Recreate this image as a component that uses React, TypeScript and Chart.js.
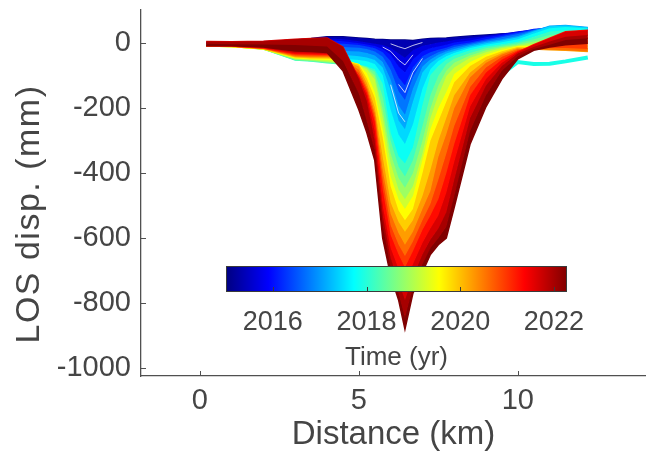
import React, { useEffect, useRef } from 'react';
import { Chart, registerables } from 'chart.js';

Chart.register(...registerables);

// ---------- data ----------
const DIST_KM = [0.2, 1.0, 2.0, 3.0, 3.5, 4.0, 4.5, 5.0, 5.25, 5.5, 5.75, 6.0, 6.25, 6.45, 6.7, 7.0, 7.25, 7.5, 7.75, 8.0, 8.5, 9.0, 9.5, 10.0, 10.5, 11.0, 11.5, 12.2];

const EPOCHS = [2015.0, 2015.35, 2015.7, 2016.05, 2016.4, 2016.75, 2017.1, 2017.45, 2017.8, 2018.15, 2018.5, 2018.85, 2019.2, 2019.55, 2019.9, 2020.25, 2020.6, 2020.95, 2021.3, 2021.65, 2022.0, 2022.28];

const LOS_2015_00 = [2, 3, 4, 10, 14, 20, 20, 16, 14, 12, 11, 10, 10, 10, 8, 12, 14, 15, 16, 18, 22, 25, 28, 30, 32, 30, 28, 25];
const LOS_2015_35 = [1, 2, 2, 6, 10, 14, 12, 6, 2, -2, -6, -14, -32, -45, -22, -8, -3, 2, 5, 10, 16, 22, 28, 32, 36, 36, 34, 30];
const LOS_2015_70 = [0, 1, 0, 2, 5, 8, 6, 0, -4, -9, -18, -36, -72, -90, -50, -25, -16, -10, -5, 2, 8, 18, 26, 34, 40, 42, 40, 35];
const LOS_2016_05 = [-1, 0, -3, -5, -3, 0, -2, -6, -10, -16, -28, -56, -106, -130, -75, -40, -28, -20, -14, -6, 2, 12, 22, 32, 42, 46, 44, 40];
const LOS_2016_40 = [-2, -1, -6, -12, -12, -10, -12, -14, -18, -26, -42, -82, -148, -175, -105, -55, -40, -28, -20, -12, -2, 8, 18, 28, 40, 48, 48, 44];
const LOS_2016_75 = [-3, -2, -9, -20, -22, -22, -24, -26, -30, -38, -58, -112, -192, -220, -140, -72, -50, -36, -26, -18, -6, 4, 12, 22, 38, 50, 52, 47];
const LOS_2017_10 = [-4, -3, -11, -30, -32, -34, -36, -40, -44, -52, -75, -145, -238, -265, -180, -90, -62, -45, -32, -24, -10, 0, 8, 18, 36, 52, 54, 48];
const LOS_2017_45 = [-5, -5, -13, -40, -42, -45, -48, -52, -56, -64, -98, -205, -282, -310, -250, -140, -80, -55, -40, -30, -15, -5, 3, 12, 30, 46, 50, 46];
const LOS_2017_80 = [-6, -7, -15, -50, -53, -58, -62, -66, -72, -80, -125, -275, -348, -370, -320, -190, -98, -70, -50, -38, -22, -10, -3, 4, 20, 36, 40, 38];
const LOS_2018_15 = [-7, -8, -17, -52, -55, -60, -64, -68, -74, -88, -165, -300, -380, -410, -360, -255, -160, -100, -65, -48, -30, -16, -8, 0, 12, 25, 30, 28];
const LOS_2018_50 = [-8, -9, -18, -50, -53, -58, -62, -68, -76, -100, -205, -340, -415, -445, -400, -300, -200, -130, -85, -60, -38, -22, -12, -5, 5, 15, 20, 18];
const LOS_2018_85 = [-9, -10, -18, -48, -51, -56, -60, -68, -80, -112, -230, -370, -450, -480, -440, -340, -230, -160, -102, -75, -45, -28, -15, -8, -2, 5, 8, 5];
const LOS_2019_20 = [-9, -10, -18, -46, -49, -52, -56, -66, -92, -150, -265, -410, -480, -510, -470, -360, -265, -200, -150, -95, -58, -35, -20, -10, -8, -5, -5, -10];
const LOS_2019_55 = [-9, -10, -17, -44, -47, -48, -52, -66, -108, -168, -290, -440, -515, -545, -510, -400, -300, -240, -180, -120, -70, -42, -25, -12, -12, -12, -14, -18];
const LOS_2019_90 = [-9, -10, -17, -42, -44, -45, -50, -72, -122, -198, -350, -490, -550, -580, -545, -470, -390, -300, -230, -160, -90, -52, -30, -15, -16, -18, -20, -24];
const LOS_2020_25 = [-9, -9, -16, -40, -42, -42, -48, -82, -135, -215, -390, -525, -585, -620, -580, -510, -455, -350, -280, -200, -105, -60, -35, -18, -18, -20, -22, -26];
const LOS_2020_60 = [-9, -9, -16, -37, -38, -39, -46, -92, -142, -228, -420, -560, -620, -655, -610, -545, -495, -420, -340, -255, -135, -75, -42, -22, -18, -15, -15, -18];
const LOS_2020_95 = [-8, -9, -15, -34, -35, -36, -44, -100, -152, -242, -450, -590, -650, -690, -640, -575, -530, -480, -400, -310, -160, -90, -50, -25, -10, 0, 5, 5];
const LOS_2021_30 = [-8, -9, -14, -31, -32, -33, -42, -106, -162, -272, -500, -630, -695, -740, -680, -615, -570, -530, -460, -365, -195, -110, -60, -28, -5, 15, 35, 40];
const LOS_2021_65 = [5, 4, 6, 12, 14, 16, -12, -110, -178, -300, -530, -660, -735, -790, -720, -650, -605, -570, -520, -420, -230, -130, -70, -32, -12, 5, 20, 25];
const LOS_2022_00 = [-2, -3, -4, -6, -8, -10, -55, -155, -240, -330, -560, -690, -770, -845, -750, -680, -630, -600, -565, -470, -270, -160, -85, -40, -18, -5, 10, 15];
const LOS_2022_28 = [-8, -8, -12, -24, -26, -29, -85, -205, -275, -360, -600, -715, -790, -880, -770, -705, -650, -620, -600, -505, -310, -195, -110, -48, -22, -12, -5, 0];

// an isolated low profile at the east end (cyan)
const NOISE_EPOCH = 2017.9;
const LOS_NOISE_EAST = [null, null, null, null, null, null, null, null, null, null, null, null, null, null, null, null, null, null, null, null, null, null, -95, -58, -64, -63, -56, -44];

// short white gaps between the early (blue) profiles near the trough centre
const GAP_A = [null, null, null, null, null, null, null, null, null, null, null, -2, -11, -17, -7, 2, null, null, null, null, null, null, null, null, null, null, null, null];
const GAP_B = [null, null, null, null, null, null, null, null, null, null, -12, -25, -52, -67, -36, null, null, null, null, null, null, null, null, null, null, null, null, null];
const GAP_C = [null, null, null, null, null, null, null, null, null, null, null, null, -127, -152, -90, -47, null, null, null, null, null, null, null, null, null, null, null, null];
const GAP_D = [null, null, null, null, null, null, null, null, null, null, null, -128, -215, -242, null, null, null, null, null, null, null, null, null, null, null, null, null, null];

const X_TICKS = [0, 5, 10];
const Y_TICKS = [0, -200, -400, -600, -800, -1000];
const CB_RANGE = [2015.0, 2022.28];
const CB_TICKS = [2016, 2018, 2020, 2022];

const PROFILES = [
  LOS_2015_00, LOS_2015_35, LOS_2015_70, LOS_2016_05, LOS_2016_40, LOS_2016_75,
  LOS_2017_10, LOS_2017_45, LOS_2017_80, LOS_2018_15, LOS_2018_50, LOS_2018_85,
  LOS_2019_20, LOS_2019_55, LOS_2019_90, LOS_2020_25, LOS_2020_60, LOS_2020_95,
  LOS_2021_30, LOS_2021_65, LOS_2022_00, LOS_2022_28,
];

// ---------- styling ----------
const TEXT_COLOR = '#454545';
const AXIS_COLOR = '#505050';
const FONT = '"Liberation Sans", Arial, Helvetica, sans-serif';

function clamp01(v: number) { return Math.max(0, Math.min(1, v)); }
function jet(x: number) {
  const r = clamp01(Math.min(4 * x - 1.5, -4 * x + 4.5));
  const g = clamp01(Math.min(4 * x - 0.5, -4 * x + 3.5));
  const b = clamp01(Math.min(4 * x + 0.5, -4 * x + 2.5));
  return `rgb(${Math.round(r * 255)},${Math.round(g * 255)},${Math.round(b * 255)})`;
}
function epochColor(t: number) {
  return jet((t - CB_RANGE[0]) / (CB_RANGE[1] - CB_RANGE[0]));
}

const CB_BOX = { left: 226, right: 567, top: 266, bottom: 292 };

const colorbarPlugin = {
  id: 'colorbarPlugin',
  afterDatasetsDraw(chart: any) {
    const ctx = chart.ctx as CanvasRenderingContext2D;
    const { left, right, top, bottom } = CB_BOX;
    ctx.save();
    const grad = ctx.createLinearGradient(left, 0, right, 0);
    [0, 0.125, 0.375, 0.625, 0.875, 1].forEach((s) => grad.addColorStop(s, jet(s)));
    ctx.fillStyle = grad;
    ctx.fillRect(left, top, right - left, bottom - top);
    ctx.strokeStyle = '#3a3a3a';
    ctx.lineWidth = 1;
    ctx.strokeRect(left + 0.5, top + 0.5, right - left - 1, bottom - top - 1);
    ctx.fillStyle = TEXT_COLOR;
    ctx.font = `27px ${FONT}`;
    ctx.textAlign = 'center';
    ctx.textBaseline = 'alphabetic';
    CB_TICKS.forEach((yr) => {
      const px = left + ((yr - CB_RANGE[0]) / (CB_RANGE[1] - CB_RANGE[0])) * (right - left);
      const xx = Math.round(px) + 0.5;
      ctx.beginPath();
      ctx.moveTo(xx, bottom - 1);
      ctx.lineTo(xx, bottom - 5);
      ctx.stroke();
      ctx.fillText(String(yr), px, 330);
    });
    ctx.font = `26px ${FONT}`;
    ctx.fillText('Time (yr)', (left + right) / 2, 365);
    ctx.restore();
  },
};

const axisDecorPlugin = {
  id: 'axisDecorPlugin',
  afterDraw(chart: any) {
    const ctx = chart.ctx as CanvasRenderingContext2D;
    const { chartArea, scales } = chart;
    ctx.save();
    ctx.strokeStyle = AXIS_COLOR;
    ctx.lineWidth = 1;
    ctx.beginPath();
    X_TICKS.forEach((v) => {
      const px = Math.round(scales.x.getPixelForValue(v)) + 0.5;
      ctx.moveTo(px, chartArea.bottom);
      ctx.lineTo(px, chartArea.bottom - 5);
    });
    Y_TICKS.forEach((v) => {
      const py = Math.round(scales.y.getPixelForValue(v)) + 0.5;
      ctx.moveTo(chartArea.left, py);
      ctx.lineTo(chartArea.left + 5, py);
    });
    ctx.stroke();
    // y-axis title
    ctx.translate(30, 214);
    ctx.rotate(-Math.PI / 2);
    ctx.fillStyle = TEXT_COLOR;
    ctx.font = `34px ${FONT}`;
    try { (ctx as any).letterSpacing = '1.5px'; } catch (e) { /* ignore */ }
    ctx.textAlign = 'center';
    ctx.textBaseline = 'middle';
    ctx.fillText('LOS disp. (mm)', 0, 0);
    ctx.restore();
  },
};

export default function App() {
  const canvasRef = useRef<HTMLCanvasElement | null>(null);

  useEffect(() => {
    if (!canvasRef.current) return;
    const datasets: any[] = [];
    PROFILES.forEach((vals, i) => {
      const col = epochColor(EPOCHS[i]);
      datasets.push({
        label: String(EPOCHS[i]),
        data: DIST_KM.map((d, j) => ({ x: d, y: vals[j] })),
        borderColor: col,
        backgroundColor: col,
        borderWidth: 1.5,
        pointRadius: 0,
        tension: 0,
        fill: i === 0 ? false : i - 1,
        order: -i,
      });
    });
    const noiseCol = epochColor(NOISE_EPOCH);
    datasets.push({
      label: 'noise',
      data: DIST_KM.map((d, j) => ({ x: d, y: LOS_NOISE_EAST[j] })),
      borderColor: noiseCol,
      backgroundColor: noiseCol,
      borderWidth: 4,
      pointRadius: 0,
      tension: 0,
      spanGaps: false,
      fill: false,
      order: -8.5,
    });
    const gaps: [any[], number][] = [[GAP_A, -1.5], [GAP_B, -2.5], [GAP_C, -4.5], [GAP_D, -6.5]];
    gaps.forEach(([vals, ord], k) => {
      datasets.push({
        label: 'gap' + k,
        data: DIST_KM.map((d, j) => ({ x: d, y: vals[j] })),
        borderColor: 'rgba(255,255,255,0.75)',
        borderWidth: 1,
        pointRadius: 0,
        tension: 0,
        spanGaps: false,
        fill: false,
        order: ord,
      });
    });

    const chart = new Chart(canvasRef.current, {
      type: 'line',
      data: { datasets },
      options: {
        responsive: false,
        devicePixelRatio: 1,
        animation: false,
        layout: { padding: { top: 10, right: 0, bottom: 0, left: 0 } },
        plugins: { legend: { display: false }, tooltip: { enabled: false } },
        scales: {
          x: {
            type: 'linear',
            min: -1.85,
            max: 14.03,
            afterBuildTicks: (scale: any) => { scale.ticks = X_TICKS.map((v) => ({ value: v })); },
            afterFit: (scale: any) => { scale.height = 79; scale.paddingLeft = 0; scale.paddingRight = 0; },
            grid: { display: false, drawTicks: false },
            border: { display: true, color: AXIS_COLOR, width: 1.3 },
            ticks: {
              color: TEXT_COLOR,
              font: { family: FONT, size: 29 },
              padding: 8,
              maxRotation: 0,
              callback: (v: any) => String(v),
            },
            title: {
              display: true,
              text: 'Distance (km)',
              color: TEXT_COLOR,
              font: { family: FONT, size: 33 },
              padding: { top: 0, bottom: 0 },
            },
          },
          y: {
            type: 'linear',
            min: -1024,
            max: 102,
            afterBuildTicks: (scale: any) => { scale.ticks = Y_TICKS.map((v) => ({ value: v })); },
            afterFit: (scale: any) => { scale.width = 141; scale.paddingTop = 0; scale.paddingBottom = 0; },
            grid: { display: false, drawTicks: false },
            border: { display: true, color: AXIS_COLOR, width: 1.3 },
            ticks: {
              color: TEXT_COLOR,
              font: { family: FONT, size: 29 },
              padding: 10,
              callback: (v: any) => String(v),
            },
            title: { display: false },
          },
        },
      },
      plugins: [colorbarPlugin, axisDecorPlugin],
    } as any);
    return () => chart.destroy();
  }, []);

  return (
    <div style={{ position: 'absolute', left: 0, top: 0, width: 646, height: 455, background: '#fff' }}>
      <canvas ref={canvasRef} width={646} height={455} />
    </div>
  );
}
